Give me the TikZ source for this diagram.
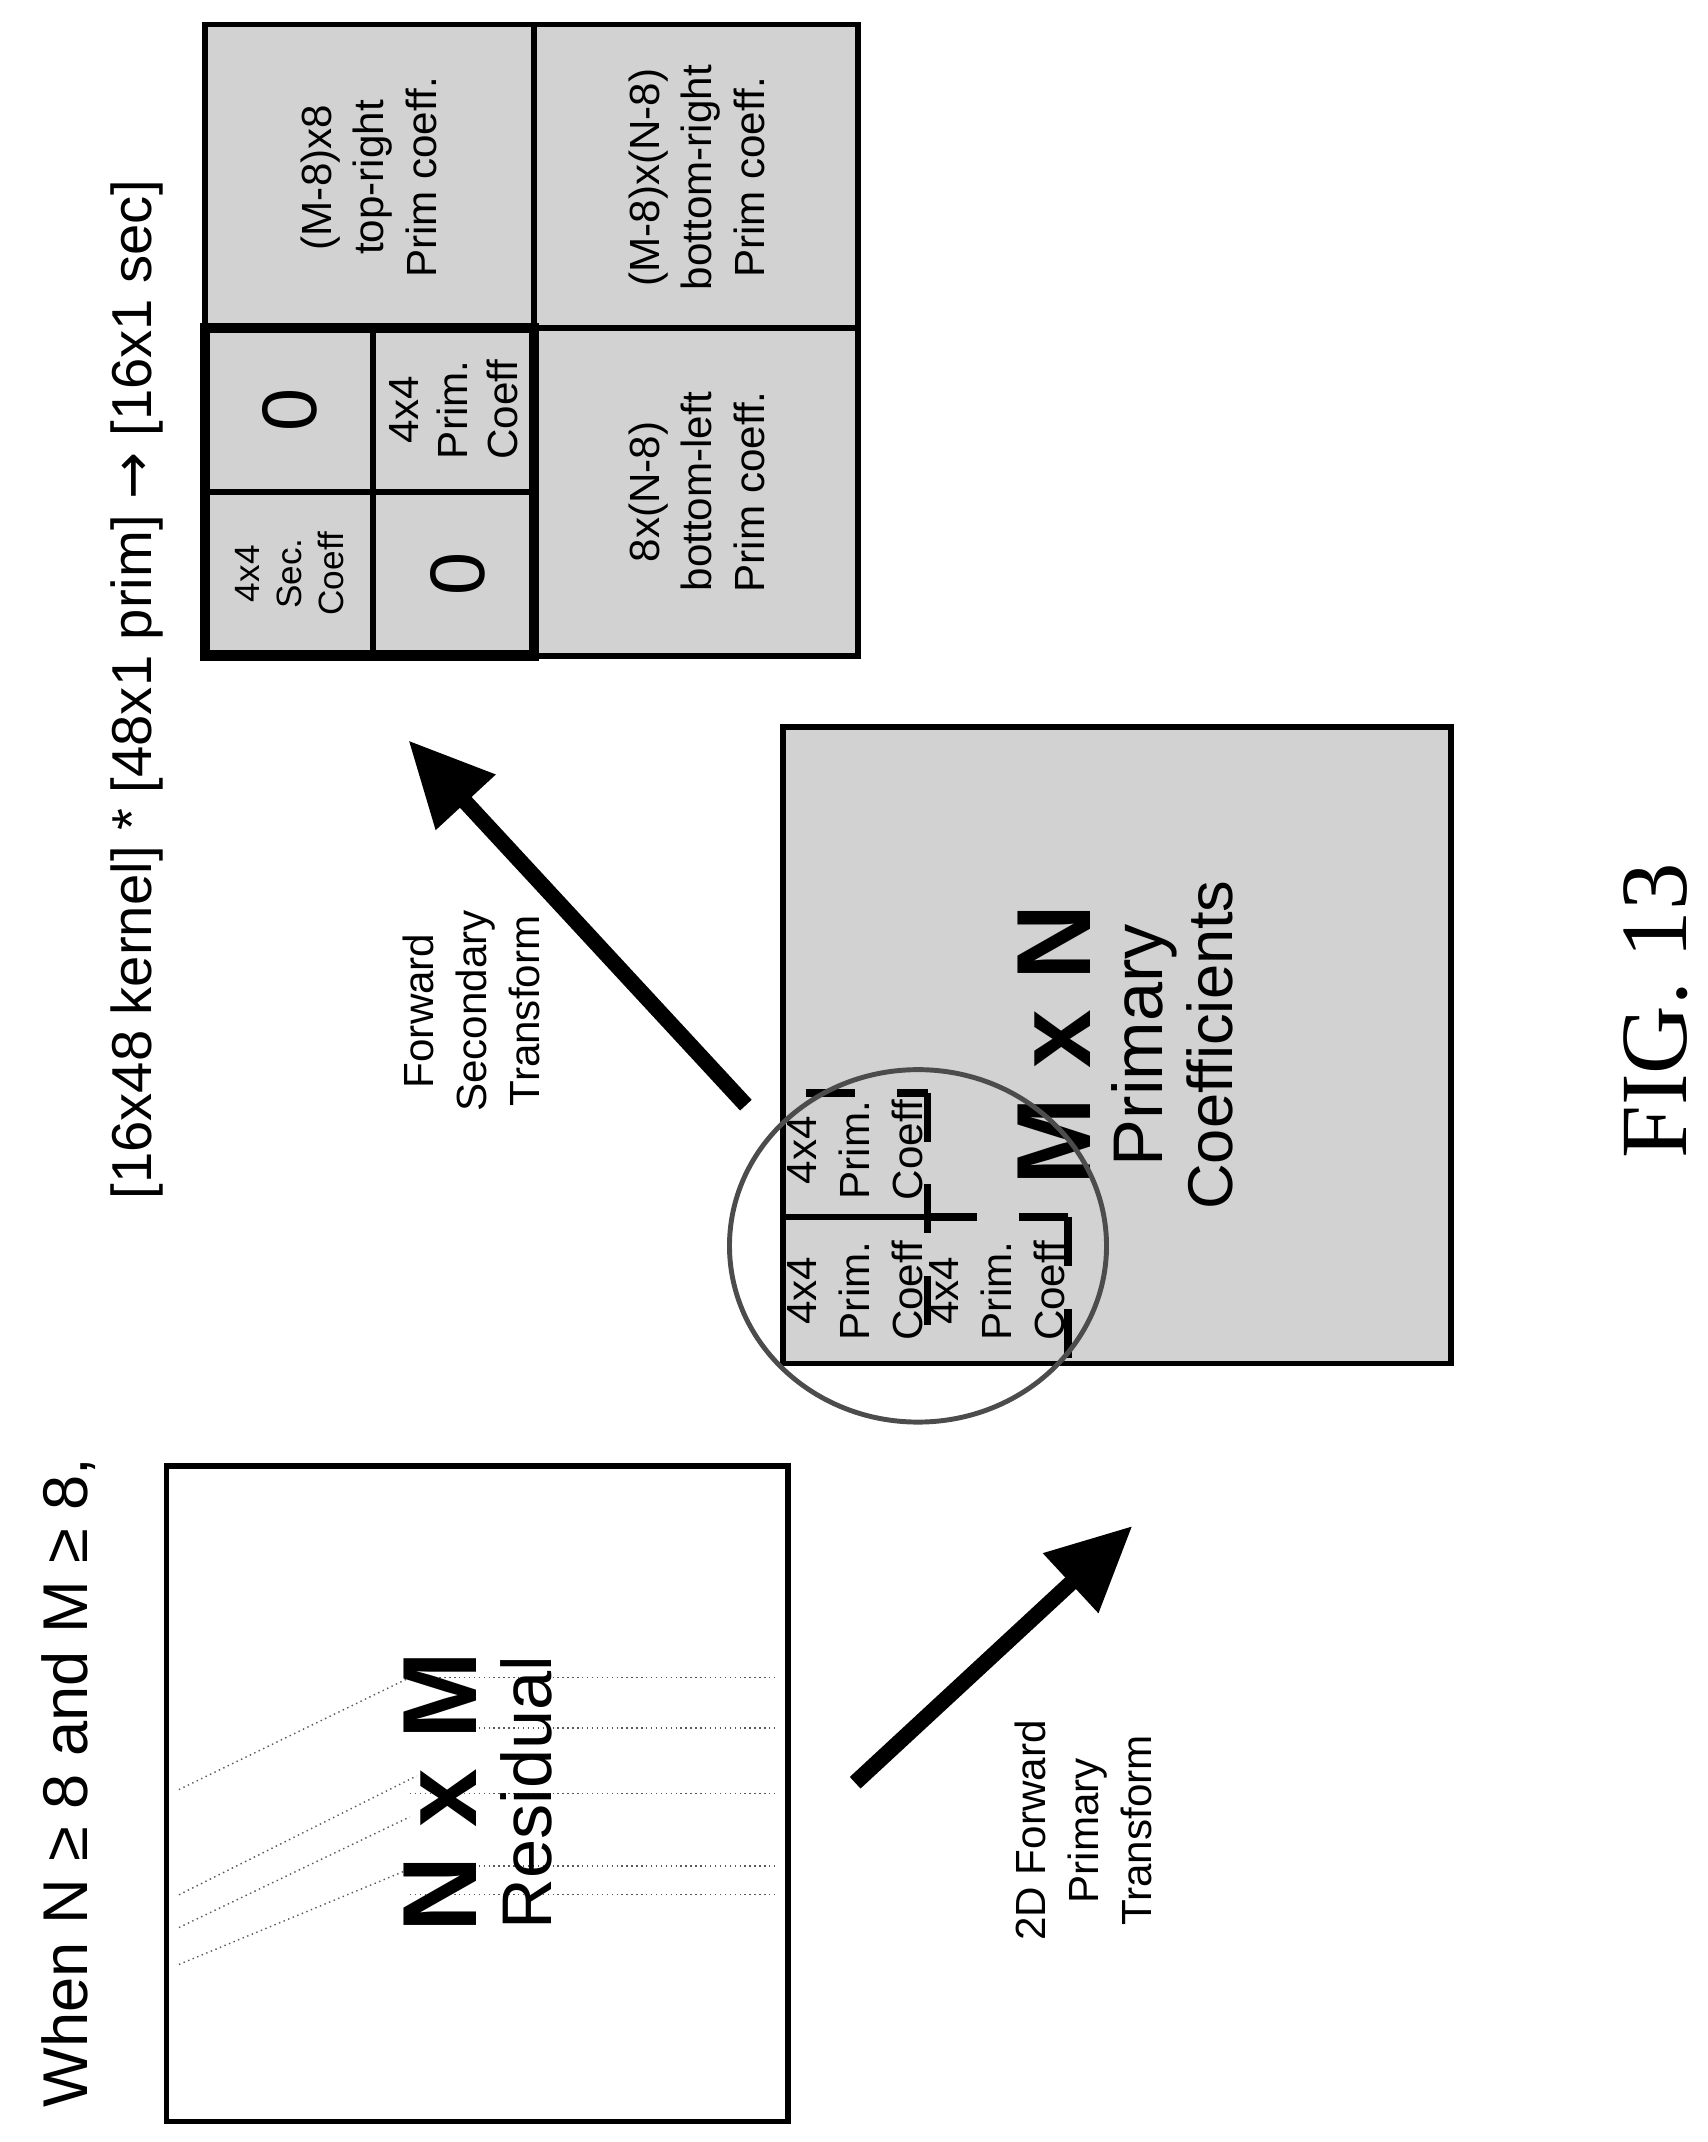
\documentclass[tikz,border=0pt]{standalone}
\usepackage{fontspec}
\setmainfont{Liberation Sans}
\newfontfamily\figfont{Liberation Serif}
\newfontfamily\symfont{DejaVu Sans}
\usetikzlibrary{arrows.meta}
\usetikzlibrary{positioning,calc}

\begin{document}
\begin{tikzpicture}[x=0.1366mm,y=-0.1366mm,
         coeff/.style = {draw=black,line width=1.6pt,fill=gray!35},
         vtext/.style = {rotate=90,align=center,inner sep=0pt},
         bigarrow/.style = {line width=4.5pt,-{Triangle[length=24pt,width=22pt]}},
         dotline/.style = {densely dotted,line width=0.4pt,gray!70!black},
         dashblk/.style = {dash pattern=on 14pt off 12pt,line width=2.2pt}
]
   \useasboundingbox (0,0) rectangle (1250,1568);

   % headings
   \node[vtext,font=\fontsize{18}{22}\selectfont] (cond) at (50,1305) {When N ≥ 8 and M ≥ 8,};
   \node[vtext,font=\fontsize{16}{20}\selectfont] (kern) at (100,505) {[16x48 kernel] * [48x1 prim] {\symfont →} [16x1 sec]};

   % residual block
   \draw[line width=1.6pt] (122,1073) rectangle (577,1553);
   \foreach \ya/\yb/\xb in {1310/1228/300, 1387/1300/305, 1411/1330/300, 1438/1366/305}
      \draw[dotline] (131,\ya) -- (\xb,\yb);
   \foreach \yh in {1228,1265,1313,1366,1387}
      \draw[dotline] (300,\yh) -- (570,\yh);
   \node[vtext,font=\fontsize{30}{32}\selectfont\bfseries] (nxm) at (322,1312) {N x M};
   \node[vtext,font=\fontsize{20}{24}\selectfont] (resid) at (385,1312) {Residual};

   % primary coefficients
   \draw[coeff] (573,532) rectangle (1062,998);
   \draw[line width=1.6pt] (573,891) -- (679,891);
   \draw[dashblk] (590,800) -- (679,800);
   \draw[dashblk] (679,800) -- (679,998);
   \draw[dashblk] (679,891) -- (782,891);
   \draw[dashblk] (782,891) -- (782,998);
   \foreach \name/\cx/\cy in {pa/626/945, pb/626/842, pc/730/945}
      \node[vtext,font=\fontsize{12}{15}\selectfont] (\name) at (\cx,\cy) {4x4\\Prim.\\Coeff};
   \node[vtext,font=\fontsize{30}{32}\selectfont\bfseries] (mxn) at (772,765) {M x N};
   \node[vtext,font=\fontsize{20}{24}\selectfont] (prim) at (838,765) {Primary};
   \node[vtext,font=\fontsize{18}{22}\selectfont] (coef) at (886,765) {Coefficients};
   \draw[gray!60!black,line width=1.4pt] (672,912) ellipse (138 and 129);

   % transforms
   \coordinate (t1) at (626,1305);
   \coordinate (h1) at (829,1117);
   \draw[bigarrow] (t1) -- (h1);
   \node[vtext,font=\fontsize{12}{15}\selectfont] (fpt) at (793,1340) {2D Forward\\Primary\\Transform};
   \coordinate (t2) at (546,809);
   \coordinate (h2) at (299,542);
   \draw[bigarrow] (t2) -- (h2);
   \node[vtext,font=\fontsize{12}{15}\selectfont] (fst) at (345,740) {Forward\\Secondary\\Transform};

   % secondary coefficients
   \draw[coeff] (150,18) rectangle (628,480);
   \draw[line width=1.6pt] (391,18) -- (391,480);
   \draw[line width=1.6pt] (150,240) -- (628,240);
   \draw[line width=1.6pt] (273,240) -- (273,480);
   \draw[line width=1.6pt] (150,360) -- (391,360);
   \draw[line width=3pt] (150,240) rectangle (391,480);
   \node[vtext,font=\fontsize{10}{12}\selectfont] (sec) at (212,420) {4x4\\Sec.\\Coeff};
   \node[vtext,font=\fontsize{22}{24}\selectfont] (za) at (335,420) {0};
   \node[vtext,font=\fontsize{22}{24}\selectfont] (zb) at (212,300) {0};
   \node[vtext,font=\fontsize{12}{14}\selectfont] (pd) at (332,300) {4x4\\Prim.\\Coeff};
   \node[vtext,font=\fontsize{12}{15}\selectfont] (bl) at (510,360) {8x(N-8)\\bottom-left\\Prim coeff.};
   \node[vtext,font=\fontsize{12}{15}\selectfont] (br) at (510,130) {(M-8)x(N-8)\\bottom-right\\Prim coeff.};
   \node[vtext,font=\fontsize{12}{15}\selectfont] (tr) at (270,130) {(M-8)x8\\top-right\\Prim coeff.};

   \node[vtext,font=\figfont\fontsize{27}{30}\selectfont] (fig) at (1212,740) {FIG. 13};
\end{tikzpicture}
\end{document}
